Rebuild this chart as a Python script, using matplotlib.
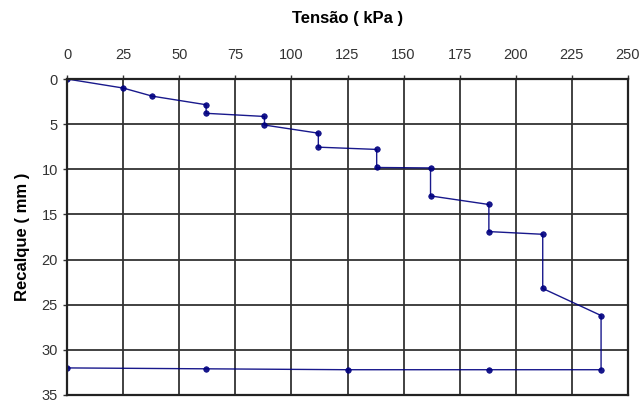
import matplotlib
matplotlib.use('Agg')
import matplotlib.pyplot as plt

plt.rcParams['font.family'] = ['Liberation Sans', 'DejaVu Sans']

# Curva tensao x recalque (prova de carga)
tensao = [0, 25, 38, 62, 62, 88, 88, 112, 112, 138, 138, 162, 162,
          188, 188, 212, 212, 238, 238, 188, 125, 62, 0]
recalque = [0, 1.0, 1.9, 2.85, 3.8, 4.15, 5.1, 6.0, 7.55, 7.8, 9.8, 9.85, 12.95,
            13.9, 16.9, 17.2, 23.2, 26.2, 32.2, 32.2, 32.2, 32.1, 32.0]

xticks = list(range(0, 251, 25))
yticks = list(range(0, 36, 5))

fig = plt.figure(figsize=(6.4, 4.03), dpi=100)
ax = fig.add_axes([67/640, 1 - 395/403, (628-67)/640, (395-79)/403])

ax.plot(tensao, recalque, color='#000080', linewidth=1.0, marker='o',
        markersize=4, markeredgewidth=0.5, alpha=0.9)

ax.set_xlim(0, 250)
ax.set_ylim(35, 0)
ax.set_xticks(xticks)
ax.set_yticks(yticks)
ax.xaxis.tick_top()
ax.xaxis.set_label_position('top')
ax.grid(True, color='#333333', linewidth=1.3)
ax.set_axisbelow(True)
for s in ax.spines.values():
    s.set_color('#222222')
    s.set_linewidth(1.6)

ax.tick_params(axis='both', labelsize=10.5, colors='#333333', length=3, width=1)
ax.tick_params(axis='x', pad=9)
ax.set_xlabel('Tensão ( kPa )', fontsize=12, fontweight='bold', labelpad=18)
ax.set_ylabel('Recalque ( mm )', fontsize=12, fontweight='bold', labelpad=8)

fig.savefig('out.png', dpi=100)
